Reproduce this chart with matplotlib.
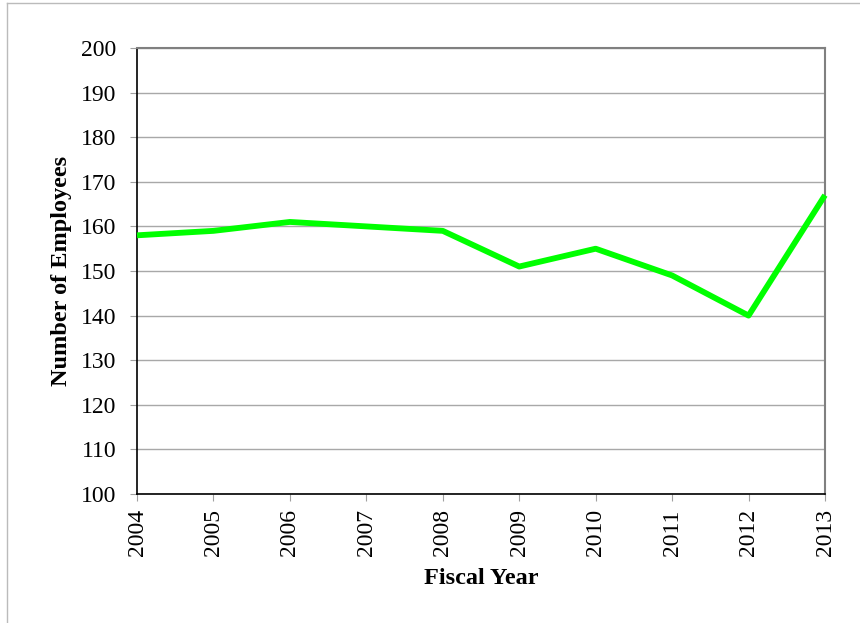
import matplotlib
matplotlib.use("Agg")
import matplotlib.pyplot as plt
from matplotlib.lines import Line2D

years = ["2004", "2005", "2006", "2007", "2008", "2009", "2010", "2011", "2012", "2013"]
employees = [158, 159, 161, 160, 159, 151, 155, 149, 140, 167]

plt.rcParams["font.family"] = ["Liberation Serif", "DejaVu Serif"]

fig = plt.figure(figsize=(8.6, 6.23), dpi=100)
ax = fig.add_axes([137 / 860, 1 - 494 / 623, (825 - 137) / 860, (494 - 48) / 623])

x = list(range(len(years)))
ax.plot(x, employees, color="#00FF00", linewidth=4.2, solid_capstyle="butt", zorder=3, clip_on=False)

ax.set_xlim(0, len(years) - 1)
ax.set_ylim(100, 200)
ax.set_yticks(range(100, 201, 10))
ax.set_xticks(x)
ax.set_xticklabels(years, rotation=90)

ax.grid(axis="y", color="#A8A8A8", linewidth=1)
ax.set_axisbelow(True)

for side in ["top", "right"]:
    ax.spines[side].set_color("#808080")
    ax.spines[side].set_linewidth(1.5)
for side in ["left", "bottom"]:
    ax.spines[side].set_color("black")
    ax.spines[side].set_linewidth(1.2)

ax.tick_params(axis="both", direction="out", length=5, color="#A0A0A0", labelsize=17)
ax.tick_params(axis="y", pad=10)
ax.tick_params(axis="x", pad=6)

ax.set_xlabel("Fiscal Year", fontsize=17.5, fontweight="bold", labelpad=8)
ax.set_ylabel("Number of Employees", fontsize=17.5, fontweight="bold", labelpad=6)

# light outer frame of the chart area
fig.add_artist(Line2D([7 / 860, 7 / 860], [0, 1 - 3 / 623], transform=fig.transFigure, color="#BBBBBB", linewidth=1))
fig.add_artist(Line2D([7 / 860, 1], [1 - 3 / 623, 1 - 3 / 623], transform=fig.transFigure, color="#BBBBBB", linewidth=1))

fig.savefig("out.png", dpi=100)
